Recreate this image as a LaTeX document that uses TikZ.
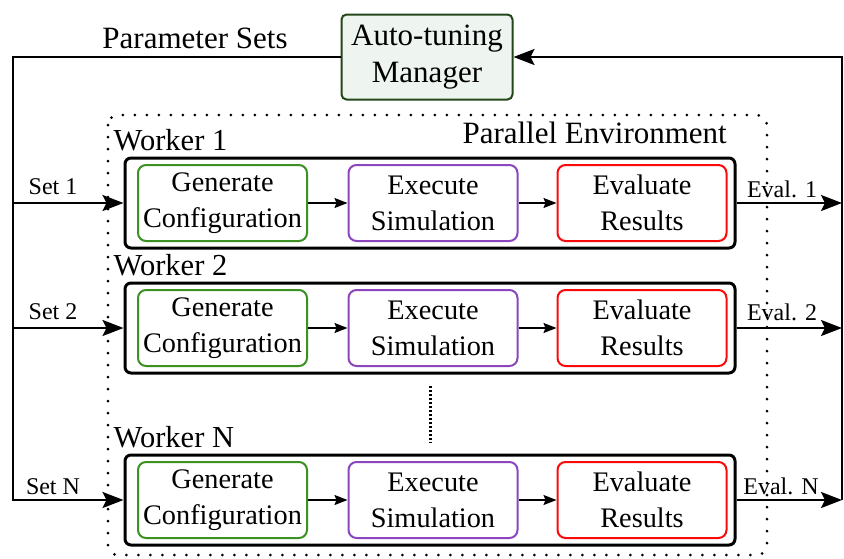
\documentclass[tikz,border=0pt]{standalone}
\usepackage{fontspec}
\setmainfont{Liberation Serif}
\usetikzlibrary{arrows.meta}
\definecolor{gencol}{RGB}{60,145,35}
\definecolor{execol}{RGB}{140,70,190}
\definecolor{evalcol}{RGB}{250,10,10}
\definecolor{mgrdraw}{RGB}{35,70,25}
\definecolor{mgrfill}{RGB}{238,245,241}
\begin{document}
\begin{tikzpicture}[x=1pt,y=-1pt,
  mgrbox/.style={draw=mgrdraw,fill=mgrfill,line width=2pt,rounded corners=5pt,
    minimum width=171pt,minimum height=85pt,align=center,inner sep=2pt,
    font=\fontsize{31}{37}\selectfont},
  workerbox/.style={draw=black,line width=3pt,rounded corners=6pt,
    minimum width=610pt,minimum height=90pt},
  stagebox/.style={draw=#1,line width=2pt,rounded corners=8pt,fill=white,
    minimum width=169pt,minimum height=76pt,align=center,inner sep=2pt,
    font=\fontsize{28.3}{36}\selectfont},
  mainline/.style={line width=2.5pt},
  bigtip/.style={-{Stealth[length=21pt,width=16pt,inset=4pt]}},
  smallarrow/.style={line width=1.5pt,-{Stealth[length=13pt,width=10pt,inset=2pt]}},
  flowlbl/.style={font=\fontsize{24}{28}\selectfont,inner sep=0pt},
  workerlbl/.style={font=\fontsize{30.5}{34}\selectfont,inner sep=0pt,anchor=base west},
  envborder/.style={line width=3pt,line cap=round,dash pattern=on 0pt off 12pt,rounded corners=10pt},
  gapdots/.style={line width=3pt,dash pattern=on 2pt off 2pt}
]
\useasboundingbox (0,0) rectangle (844,558);

% parallel environment frame
\draw[envborder] (108,115) rectangle (767,555);
\node[font=\fontsize{31}{36}\selectfont,inner sep=0pt,anchor=base east] at (727,143) {Parallel Environment};

% manager
\node[mgrbox] (mgr) at (427,57) {Auto-tuning\\Manager};
\node[font=\fontsize{31}{36}\selectfont,inner sep=0pt,anchor=base] at (195,48) {Parameter Sets};

% workers
\foreach \name/\y/\lab in {w1/203/1, w2/328/2, wN/500/N}{
  \node[workerbox] (\name) at (430,\y) {};
  \node[workerlbl] at ([xshift=-10pt,yshift=6pt]\name.north west) {Worker \lab};
  \node[stagebox=gencol] (\name g) at (222.5,\y) {Generate\\Configuration};
  \node[stagebox=execol] (\name x) at (433,\y) {Execute\\Simulation};
  \node[stagebox=evalcol] (\name e) at (642,\y) {Evaluate\\Results};
  \draw[smallarrow] (\name g) -- (\name x);
  \draw[smallarrow] (\name x) -- (\name e);
}

% elided workers
\draw[gapdots] (430,386) -- (430,443);

% distribution of parameter sets
\coordinate (L) at (13,57);
\coordinate (R) at (842,57);
\draw[mainline,bigtip,line join=miter] (mgr.west) -- (L) |- (wN.west);
\draw[mainline,bigtip] (L |- w1.west) -- (w1.west);
\draw[mainline,bigtip] (L |- w2.west) -- (w2.west);
\node[flowlbl,anchor=base] at (53,194) {Set 1};
\node[flowlbl,anchor=base] at (53,319) {Set 2};
\node[flowlbl,anchor=base] at (53,494) {Set N};

% collection of evaluations
\draw[mainline,bigtip] (w1.east) -- (w1.east -| R);
\draw[mainline,bigtip] (w2.east) -- (w2.east -| R);
\draw[mainline,bigtip] (wN.east) -- (wN.east -| R);
\draw[mainline,bigtip,line join=miter] (wN.east -| R) -- (R) -- (mgr.east);
\node[flowlbl,anchor=base] at (782,197) {Eval. 1};
\node[flowlbl,anchor=base] at (782,320) {Eval. 2};
\node[flowlbl,anchor=base] at (781,494) {Eval. N};
\end{tikzpicture}
\end{document}
